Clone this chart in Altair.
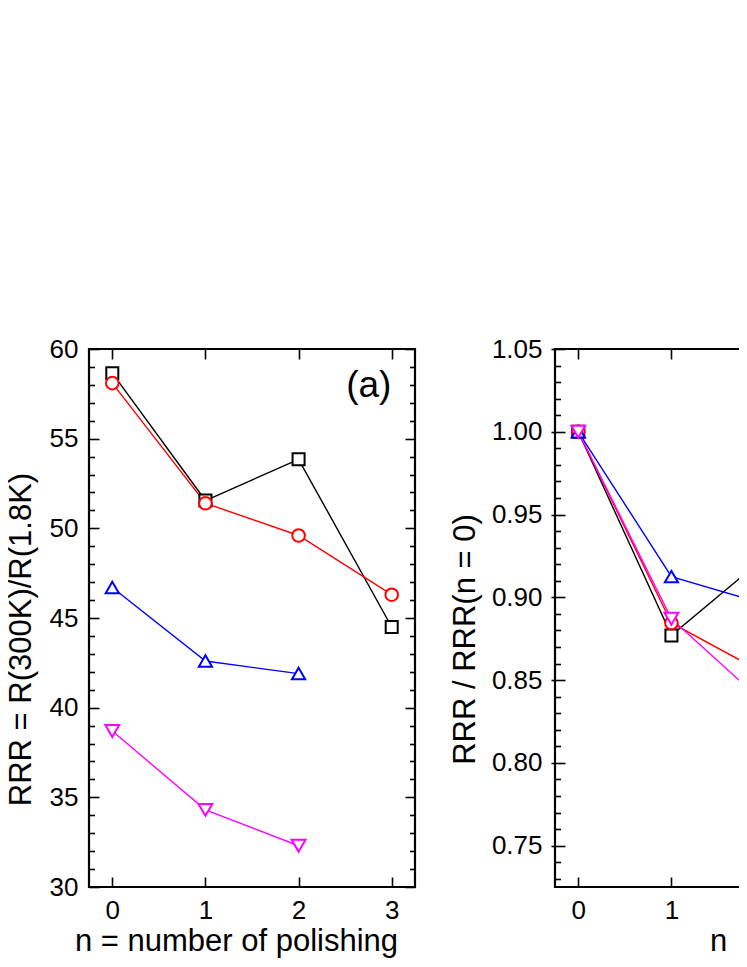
import altair as alt
import pandas as pd

# ---------------- data ----------------
series = ["black", "red", "blue", "magenta"]
colors = ["#000000", "#ff0000", "#0000ff", "#ff00ff"]
shapes = ["square", "circle", "triangle-up", "triangle-down"]
sizes = [144, 190, 340, 340]

n_black = [0, 1, 2, 3]
n_red = [0, 1, 2, 3]
n_blue = [0, 1, 2]
n_magenta = [0, 1, 2]

# panel (a): RRR = R(300K)/R(1.8K)
rrr_black = [58.65, 51.55, 53.85, 44.5]
rrr_red = [58.1, 51.4, 49.6, 46.3]
rrr_blue = [46.7, 42.6, 41.9]
rrr_magenta = [38.7, 34.3, 32.3]

# panel (b): RRR / RRR(n = 0)
norm_black = [1.0, 0.877, 0.924, 0.76]
norm_red = [1.0, 0.8845, 0.854, 0.797]
norm_blue = [1.0, 0.9125, 0.896]
norm_magenta = [1.0, 0.887, 0.836]

x_ticks = [0, 1, 2, 3]
ya_major = [30, 35, 40, 45, 50, 55, 60]
ya_minor = [v for v in range(31, 60) if v % 5 != 0]
yb_major = [0.75, 0.80, 0.85, 0.90, 0.95, 1.00, 1.05]
yb_minor = [round(0.73 + 0.01 * i, 2) for i in range(32) if round(0.73 + 0.01 * i, 2) not in yb_major]

panel_labels = ["(a)", "(b)"]
label_x = [2.754, 2.754]
label_y = [57.3, 1.01]

FONT = "Liberation Sans"


def frame(ns, vs):
    rows = []
    for k, (s, nl, vl) in enumerate(zip(series, ns, vs)):
        for n, v in zip(nl, vl):
            rows.append({"n": n, "v": v, "s": s, "k": k})
    return pd.DataFrame(rows)


df_a = frame([n_black, n_red, n_blue, n_magenta], [rrr_black, rrr_red, rrr_blue, rrr_magenta])
df_b = frame([n_black, n_red, n_blue, n_magenta], [norm_black, norm_red, norm_blue, norm_magenta])


def panel(df, ydom, ymajor, yminor, yfmt, ytitle, xtitle, xtitle_x, lab, lx, ly, cross, ytp):
    xs = alt.Scale(domain=[-0.25, 3.25], nice=False, zero=False)
    ys = alt.Scale(domain=ydom, nice=False, zero=False)
    color = alt.Color("s:N", scale=alt.Scale(domain=series, range=colors), legend=None)

    xaxis_kw = dict(orient="bottom", values=x_ticks, format="d", title=xtitle,
                    offset=-10, tickSize=10, labelPadding=10, domain=False, grid=False,
                    titlePadding=3)
    if xtitle_x is not None:
        xaxis_kw["titleX"] = xtitle_x
    yaxis_kw = dict(orient="left", values=ymajor, format=yfmt, title=ytitle,
                    offset=-10, tickSize=(14 if cross else 10), labelPadding=(9 if cross else 11),
                    domain=False, grid=False, titlePadding=ytp, titleY=290)

    lines = alt.Chart(df).mark_line(strokeWidth=1.4).encode(
        x=alt.X("n:Q", scale=xs, axis=alt.Axis(**xaxis_kw)),
        y=alt.Y("v:Q", scale=ys, axis=alt.Axis(**yaxis_kw)),
        color=color,
    )
    points = alt.Chart(df).mark_point(filled=False, strokeWidth=2, opacity=1).encode(
        x=alt.X("n:Q", scale=xs, axis=None),
        y=alt.Y("v:Q", scale=ys, axis=None),
        color=color,
        fill=alt.value("white"),
        fillOpacity=alt.value(1),
        shape=alt.Shape("s:N", scale=alt.Scale(domain=series, range=shapes), legend=None),
        size=alt.Size("s:N", scale=alt.Scale(domain=series, range=sizes), legend=None),
        order=alt.Order("k:Q"),
    )
    top_right = alt.Chart(df).mark_point(opacity=0).encode(
        x=alt.X("n:Q", scale=xs, axis=alt.Axis(orient="top", values=x_ticks, labels=False,
                                                 title=None, offset=-10, tickSize=10,
                                                 domain=False, grid=False)),
        y=alt.Y("v:Q", scale=ys, axis=alt.Axis(orient="right", values=ymajor, labels=False,
                                                 title=None, offset=-10, tickSize=10,
                                                 domain=False, grid=False)),
    )
    minor_left = alt.Chart(df).mark_point(opacity=0).encode(
        x=alt.X("n:Q", scale=xs, axis=None),
        y=alt.Y("v:Q", scale=ys, axis=alt.Axis(orient="left", values=yminor, labels=False,
                                                 title=None, offset=-5.5, tickSize=5.5,
                                                 domain=False, grid=False)),
    )
    minor_right = alt.Chart(df).mark_point(opacity=0).encode(
        x=alt.X("n:Q", scale=xs, axis=None),
        y=alt.Y("v:Q", scale=ys, axis=alt.Axis(orient="right", values=yminor, labels=False,
                                                 title=None, offset=-5.5, tickSize=5.5,
                                                 domain=False, grid=False)),
    )
    ldf = pd.DataFrame({"t": [lab], "tx": [lx], "ty": [ly]})
    text = alt.Chart(ldf).mark_text(font=FONT, fontSize=37, align="center",
                                    baseline="alphabetic", color="black").encode(
        x=alt.X("tx:Q", scale=xs, axis=None),
        y=alt.Y("ty:Q", scale=ys, axis=None),
        text="t:N",
    )
    return alt.layer(lines, points, top_right, minor_left, minor_right, text).resolve_axis(
        x="independent", y="independent"
    ).properties(width=326, height=538)


pa = panel(df_a, [30, 60], ya_major, ya_minor, "d", "RRR = R(300K)/R(1.8K)",
           "n = number of polishing", 147, panel_labels[0], label_x[0], label_y[0], False, 12)
pb = panel(df_b, [0.725, 1.05], yb_major, yb_minor, ".2f", "RRR / RRR(n = 0)",
           "n", None, panel_labels[1], label_x[1], label_y[1], True, 10)

chart = alt.hconcat(pa, pb, spacing=31).properties(
    autosize=alt.AutoSizeParams(type="none"),
    padding={"left": 81, "top": 341, "right": 650, "bottom": 606},
    background="white",
).configure_view(stroke="black", strokeWidth=2.2).configure_axis(
    labelFont=FONT, titleFont=FONT, labelFontSize=26, titleFontSize=31,
    labelColor="black", titleColor="black", tickColor="black", tickWidth=1.6,
    titleFontWeight="normal",
)

chart.save("out.html", embed_options={"renderer": "svg", "actions": False})
